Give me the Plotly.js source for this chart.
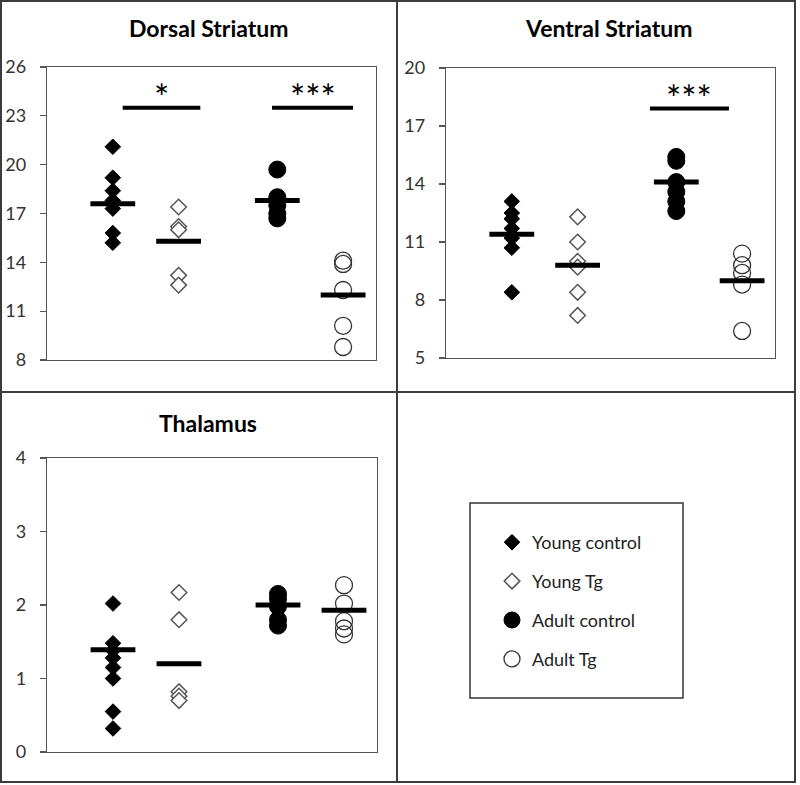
<!DOCTYPE html>
<html>
<head>
<meta charset="utf-8">
<script src="https://cdn.plot.ly/plotly-3.0.1.min.js"></script>
<style>html,body{margin:0;padding:0;background:#fff;}#chart{width:800px;height:785px;}</style>
</head>
<body>
<div id="chart"></div>
<script>
// ---- data ----
const groups = ['Young control', 'Young Tg', 'Adult control', 'Adult Tg'];
const groupX = [1, 2, 3.5, 4.5];
const panelTitles = ['Dorsal Striatum', 'Ventral Striatum', 'Thalamus'];

const dorsalYoungControl = [21.1, 19.2, 18.4, 17.8, 17.3, 15.8, 15.2];
const dorsalYoungTg = [17.4, 16.2, 16.0, 13.2, 12.6];
const dorsalAdultControl = [19.7, 18.0, 17.5, 17.0, 16.7];
const dorsalAdultTg = [14.1, 13.9, 12.3, 10.1, 8.8];
const dorsalMeans = [17.6, 15.3, 17.8, 12.0];

const ventralYoungControl = [13.1, 12.5, 12.2, 11.7, 11.2, 10.7, 8.4];
const ventralYoungTg = [12.3, 11.0, 10.0, 9.7, 8.4, 7.2];
const ventralAdultControl = [15.4, 15.2, 14.1, 13.6, 13.1, 12.6];
const ventralAdultTg = [10.4, 9.8, 9.4, 8.8, 6.4];
const ventralMeans = [11.4, 9.8, 14.1, 9.0];

const thalamusYoungControl = [2.02, 1.48, 1.38, 1.28, 1.15, 1.0, 0.55, 0.32];
const thalamusYoungTg = [2.17, 1.8, 0.82, 0.76, 0.70];
const thalamusAdultControl = [2.15, 2.08, 1.98, 1.80, 1.72];
const thalamusAdultTg = [2.27, 2.02, 1.78, 1.68, 1.60];
const thalamusMeans = [1.39, 1.2, 2.0, 1.93];

const dorsalSigStart = [1.15, 3.42];
const dorsalSigEnd = [2.33, 4.65];
const dorsalSigY = [23.5, 23.5];
const dorsalSigLabel = ['*', '***'];

const ventralSigStart = [3.1];
const ventralSigEnd = [4.3];
const ventralSigY = [17.9];
const ventralSigLabel = ['***'];

const dorsalTicks = [8, 11, 14, 17, 20, 23, 26];
const ventralTicks = [5, 8, 11, 14, 17, 20];
const thalamusTicks = [0, 1, 2, 3, 4];

// ---- build ----
const panels = [
  {ax: '', data: [dorsalYoungControl, dorsalYoungTg, dorsalAdultControl, dorsalAdultTg], means: dorsalMeans,
   sig: [dorsalSigStart, dorsalSigEnd, dorsalSigY, dorsalSigLabel]},
  {ax: '2', data: [ventralYoungControl, ventralYoungTg, ventralAdultControl, ventralAdultTg], means: ventralMeans,
   sig: [ventralSigStart, ventralSigEnd, ventralSigY, ventralSigLabel]},
  {ax: '3', data: [thalamusYoungControl, thalamusYoungTg, thalamusAdultControl, thalamusAdultTg], means: thalamusMeans,
   sig: null}
];

const markerStyles = [
  {symbol: 'diamond', size: 12, color: '#000000', line: {color: '#000000', width: 1}},
  {symbol: 'diamond', size: 12, color: '#ffffff', line: {color: '#555555', width: 1.5}},
  {symbol: 'circle', size: 17, color: '#000000', line: {color: '#000000', width: 1}},
  {symbol: 'circle', size: 17, color: 'rgba(255,255,255,0)', line: {color: '#333333', width: 1.3}}
];

const traces = [];
const sigAnnotations = [];
panels.forEach((p, pi) => {
  const xa = 'x' + p.ax, ya = 'y' + p.ax;
  p.data.forEach((vals, gi) => {
    traces.push({
      type: 'scatter', mode: 'markers', xaxis: xa, yaxis: ya,
      x: vals.map(() => groupX[gi]), y: vals,
      name: groups[gi], legendgroup: groups[gi], showlegend: pi === 0,
      marker: markerStyles[gi], hoverinfo: 'y'
    });
  });
  traces.push({
    type: 'scatter', mode: 'markers', xaxis: xa, yaxis: ya,
    x: groupX, y: p.means, showlegend: false, hoverinfo: 'y',
    marker: {symbol: 'line-ew', size: 32, line: {color: '#000000', width: 5}}
  });
  if (p.sig) {
    const [s, e, yv, lab] = p.sig;
    s.forEach((_, k) => {
      traces.push({
        type: 'scatter', mode: 'lines', xaxis: xa, yaxis: ya,
        x: [s[k], e[k]], y: [yv[k], yv[k]], showlegend: false, hoverinfo: 'skip',
        line: {color: '#000000', width: 4}
      });
      sigAnnotations.push({
        xref: xa, yref: ya, x: (s[k] + e[k]) / 2, y: yv[k], text: lab[k],
        showarrow: false, xanchor: 'center', yanchor: 'bottom', yshift: -13,
        font: {family: 'Lato, sans-serif', size: 36, color: '#000000'}
      });
    });
  }
});

function yAxis(range, ticks, domain, anchor) {
  return {
    domain: domain, range: range, tickvals: ticks, ticktext: ticks.map(String), anchor: anchor,
    showgrid: false, zeroline: false, showline: true, mirror: true, linecolor: '#555555', linewidth: 1.3,
    ticks: 'outside', ticklen: 6, tickcolor: '#555555', tickwidth: 1.3, ticklabelstandoff: 10,
    tickfont: {family: 'Lato, sans-serif', size: 18, color: '#333333'}, fixedrange: true
  };
}
function xAxis(domain, anchor) {
  return {
    domain: domain, range: [0, 5], anchor: anchor, showgrid: false, zeroline: false,
    showline: true, mirror: true, linecolor: '#555555', linewidth: 1.3, showticklabels: false, ticks: '', fixedrange: true
  };
}
const W = 800, H = 785;
const px = v => v / W, py = v => 1 - v / H;

const titleFont = {family: 'Lato, sans-serif', size: 23, color: '#000'};
const borderColor = '#3c3c3c';
const layout = {
  width: W, height: H, margin: {l: 0, r: 0, t: 0, b: 0},
  paper_bgcolor: '#ffffff', plot_bgcolor: '#ffffff',
  font: {family: 'Lato, sans-serif'},
  xaxis: xAxis([px(47), px(376)], 'y'),
  yaxis: yAxis([8, 26], dorsalTicks, [py(360), py(67)], 'x'),
  xaxis2: xAxis([px(446), px(775)], 'y2'),
  yaxis2: yAxis([5, 20], ventralTicks, [py(358), py(68)], 'x2'),
  xaxis3: xAxis([px(47), px(377)], 'y3'),
  yaxis3: yAxis([0, 4], thalamusTicks, [py(752), py(458)], 'x3'),
  showlegend: true,
  legend: {
    x: px(492), y: py(524), xanchor: 'left', yanchor: 'top',
    bgcolor: 'rgba(0,0,0,0)', borderwidth: 0,
    font: {family: 'Lato, sans-serif', size: 18, color: '#222222'},
    traceorder: 'grouped', tracegroupgap: 12.5, itemsizing: 'trace'
  },
  annotations: [
    {text: '<b>' + panelTitles[0] + '</b>', xref: 'paper', yref: 'paper', x: px(209), y: py(28),
     xanchor: 'center', yanchor: 'middle', showarrow: false, font: titleFont},
    {text: '<b>' + panelTitles[1] + '</b>', xref: 'paper', yref: 'paper', x: px(609), y: py(28),
     xanchor: 'center', yanchor: 'middle', showarrow: false, font: titleFont},
    {text: '<b>' + panelTitles[2] + '</b>', xref: 'paper', yref: 'paper', x: px(208), y: py(423),
     xanchor: 'center', yanchor: 'middle', showarrow: false, font: titleFont}
  ].concat(sigAnnotations),
  shapes: [
    {type: 'rect', xref: 'paper', yref: 'paper', x0: px(1), x1: px(795), y0: py(782), y1: py(1), line: {color: borderColor, width: 2}},
    {type: 'line', xref: 'paper', yref: 'paper', x0: px(397), x1: px(397), y0: py(782), y1: py(1), line: {color: borderColor, width: 2}},
    {type: 'line', xref: 'paper', yref: 'paper', x0: px(1), x1: px(795), y0: py(392), y1: py(392), line: {color: borderColor, width: 2}},
    {type: 'rect', xref: 'paper', yref: 'paper', x0: px(470), x1: px(683), y0: py(698), y1: py(503), line: {color: '#333333', width: 1.5}}
  ]
};

Plotly.newPlot('chart', traces, layout, {displayModeBar: false, staticPlot: true});
</script>
</body>
</html>
